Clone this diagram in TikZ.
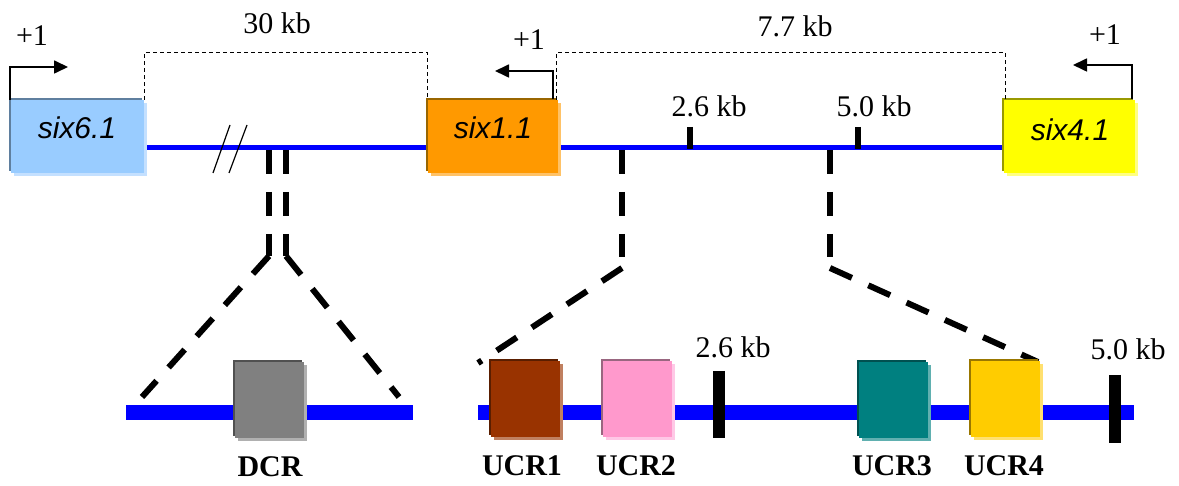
\documentclass[tikz,border=0pt]{standalone}
\usepackage{fontspec}
\setmainfont{Liberation Serif}
\newfontfamily\arialfont{Liberation Sans}
\usetikzlibrary{arrows.meta,shadows}
\definecolor{cSixSix}{HTML}{99CCFF}\definecolor{cSixSixD}{HTML}{5F7F9F}\definecolor{cSixSixL}{HTML}{C4E0FF}
\definecolor{cSixOne}{HTML}{FF9900}\definecolor{cSixOneD}{HTML}{996600}\definecolor{cSixOneL}{HTML}{FFC266}
\definecolor{cSixFour}{HTML}{FFFF00}\definecolor{cSixFourD}{HTML}{999900}\definecolor{cSixFourL}{HTML}{FFFF80}
\definecolor{cDCR}{HTML}{808080}\definecolor{cDCRD}{HTML}{505050}\definecolor{cDCRL}{HTML}{B0B0B0}
\definecolor{cUa}{HTML}{993300}\definecolor{cUaD}{HTML}{5A1E00}\definecolor{cUaL}{HTML}{C08060}
\definecolor{cUb}{HTML}{FF99CC}\definecolor{cUbD}{HTML}{996680}\definecolor{cUbL}{HTML}{FFC8E6}
\definecolor{cUc}{HTML}{008080}\definecolor{cUcD}{HTML}{005050}\definecolor{cUcL}{HTML}{60B0B0}
\definecolor{cUd}{HTML}{FFCC00}\definecolor{cUdD}{HTML}{997700}\definecolor{cUdL}{HTML}{FFE070}
\definecolor{dnablue}{HTML}{0000FF}
\tikzset{
  genebox/.style n args={3}{fill=#1, inner sep=0pt,
    general shadow={fill=#3, shadow xshift=1.5pt, shadow yshift=-1.5pt},
    general shadow={fill=#2, shadow xshift=-1pt, shadow yshift=1pt}},
  bigbox/.style={minimum height=36.5pt},
  smallbox/.style={minimum width=34.5pt, minimum height=38pt},
  genetext/.style={font=\arialfont\itshape\fontsize{15}{18}\selectfont, inner sep=0pt},
  lab/.style={font=\fontsize{15}{18}\selectfont, inner sep=0pt},
  boldlab/.style={font=\bfseries\fontsize{15}{18}\selectfont, inner sep=0pt},
  dnatop/.style={dnablue, line width=2.5pt},
  dnabot/.style={dnablue, line width=7.5pt},
  bracket/.style={dash pattern=on 2pt off 1.5pt, line width=0.65pt},
  zoomline/.style={dash pattern=on 12pt off 9pt, line width=3pt},
  prom/.style={line width=0.85pt, -{Triangle[length=7pt,width=6.5pt]}},
  tick/.style={line width=3pt},
  bigtick/.style={line width=6pt},
}
\begin{document}
\begin{tikzpicture}[x=0.5pt,y=-0.5pt]
\useasboundingbox (0,0) rectangle (1179,486);
% top DNA line
\draw[dnatop] (140,148) -- (1010,148);
% break marks
\draw[line width=0.6pt] (213,173) -- (230,125) (229,173) -- (247,125);
% ticks on top line
\draw[tick] (690,127) -- (690,149);
\draw[tick] (858,127) -- (858,149);
\node[lab] (k26t) at (709,106) {2.6 kb};
\node[lab] (k50t) at (874,106) {5.0 kb};
% bottom DNA lines
\draw[dnabot] (126,413) -- (413,413);
\draw[dnabot] (478,413) -- (1134,413);
\draw[bigtick] (719,371) -- (719,438);
\draw[bigtick] (1115,375) -- (1115,443);
\node[lab] (k26b) at (733,347) {2.6 kb};
\node[lab] (k50b) at (1128,349) {5.0 kb};
% zoom connectors
\coordinate (da) at (269,150); \coordinate (db) at (286,150);
\coordinate (dak) at (269,256); \coordinate (dbk) at (286,256);
\draw[zoomline] (da) -- (dak);
\draw[zoomline] (db) -- (dbk);
\draw[zoomline] (dak) -- (142,397);
\draw[zoomline] (dbk) -- (399,397);
\coordinate (ua) at (622,150); \coordinate (ub) at (830,150);
\coordinate (uak) at (622,257); \coordinate (ubk) at (830,257);
\draw[zoomline] (ua) -- (uak);
\draw[zoomline] (ub) -- (ubk);
\draw[zoomline] (622,268) -- (478,363);
\draw[zoomline] (830,268) -- (1038,362);
% gene boxes
\node[genebox={cSixSix}{cSixSixD}{cSixSixL}, bigbox, minimum width=66.5pt] (six6) at (77.5,136.5) {};
\node[genebox={cSixOne}{cSixOneD}{cSixOneL}, bigbox, minimum width=65pt] (six1) at (493,136.5) {};
\node[genebox={cSixFour}{cSixFourD}{cSixFourL}, bigbox, minimum width=65.5pt] (six4) at (1069.5,136.5) {};
\node[genetext] (t6) at (77,128) {six6.1};
\node[genetext] (t1) at (493,128) {six1.1};
\node[genetext] (t4) at (1070,130) {six4.1};
% distance brackets
\draw[bracket] (six6.north east) -- ++(0,-47) -| (six1.north west);
\draw[bracket] ([xshift=-1pt]six1.north east) -- ++(0,-47) -| ([xshift=1pt]six4.north west);
\node[lab] (d30) at (277,23) {30 kb};
\node[lab] (d77) at (795,26) {7.7 kb};
% promoters
\draw[prom] (10,100) |- (68,67);
\draw[prom] (553,99) |- (495,71);
\draw[prom] (1132,99) |- (1073,65);
\node[lab] (p6) at (32,36) {+1};
\node[lab] (p1) at (529,40) {+1};
\node[lab] (p4) at (1105,35) {+1};
% regulatory boxes
\node[genebox={cDCR}{cDCRD}{cDCRL}, smallbox] (dcr) at (269.5,400) {};
\node[genebox={cUa}{cUaD}{cUaL}, smallbox] (ucr1) at (525.5,399.5) {};
\node[genebox={cUb}{cUbD}{cUbL}, smallbox] (ucr2) at (637,399.5) {};
\node[genebox={cUc}{cUcD}{cUcL}, smallbox] (ucr3) at (893.5,400) {};
\node[genebox={cUd}{cUdD}{cUdL}, smallbox] (ucr4) at (1005.5,399.5) {};
\node[boldlab] (ldcr) at (270,467) {DCR};
\node[boldlab] (lu1) at (522,466) {UCR1};
\node[boldlab] (lu2) at (636,466) {UCR2};
\node[boldlab] (lu3) at (892,466) {UCR3};
\node[boldlab] (lu4) at (1004,466) {UCR4};
\end{tikzpicture}
\end{document}
